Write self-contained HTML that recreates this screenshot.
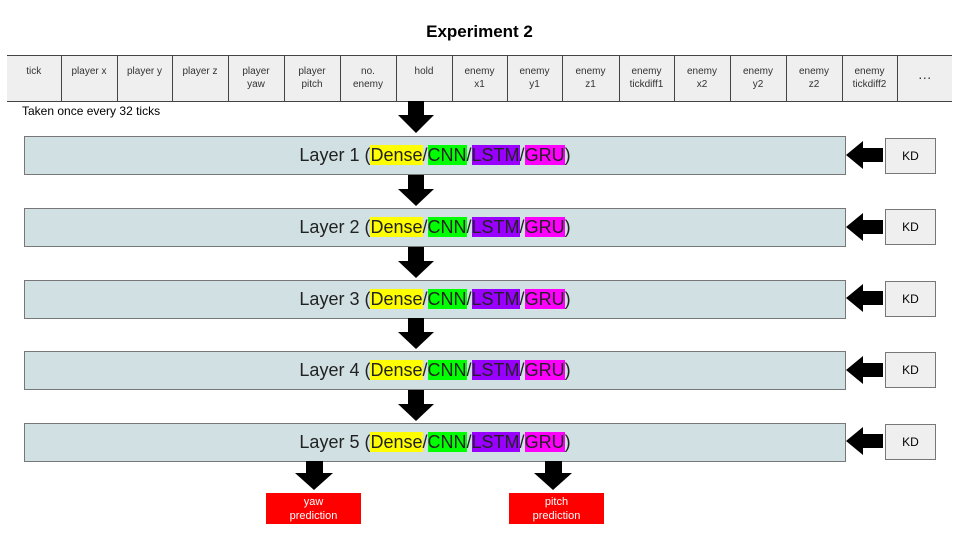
<!DOCTYPE html>
<html><head><style>
body{margin:0;width:959px;height:539px;background:#fff;font-family:"Liberation Sans",Arial,sans-serif;position:relative;overflow:hidden}
.a{position:absolute}
.title{left:0;width:959px;top:22px;text-align:center;font-weight:bold;font-size:17px}
table{position:absolute;left:7px;top:55px;border-collapse:collapse;table-layout:fixed;width:945px;height:47px;background:#efefef;font-size:10px;color:#333}
td{border:1px solid #444;border-left:1px solid #888;text-align:center;vertical-align:top;padding:9px 0 0;line-height:13px;overflow:hidden;white-space:nowrap}
tr td:first-child{border-left:none}tr td:last-child{border-right:none}
.layer{left:24px;width:820px;height:37px;background:#d0e0e3;border:1px solid #777;font-size:18px;line-height:37px;text-align:center;color:#222}
.y{background:#ffff00}.g{background:#00ff00}.p{background:#9900ff}.m{background:#ff00ff}
.kd{left:885px;width:49px;height:34px;background:#efefef;border:1px solid #777;font-size:12px;line-height:34px;text-align:center}
.red{background:#ff0000;color:#fff;font-size:11px;text-align:center;line-height:14px;padding-top:2px;width:95px;height:31px;box-sizing:border-box}
</style></head><body>
<div class="a title">Experiment 2</div>
<table>
<colgroup><col style="width:54px"><col style="width:56px"><col style="width:55px"><col style="width:56px"><col style="width:56px"><col style="width:56px"><col style="width:56px"><col style="width:56px"><col style="width:55px"><col style="width:55px"><col style="width:57px"><col style="width:55px"><col style="width:56px"><col style="width:56px"><col style="width:56px"><col style="width:55px"><col style="width:55px"></colgroup>
<tr>
<td>tick</td><td>player x</td><td>player y</td><td>player z</td><td>player<br>yaw</td><td>player<br>pitch</td><td>no.<br>enemy</td><td>hold</td><td>enemy<br>x1</td><td>enemy<br>y1</td><td>enemy<br>z1</td><td>enemy<br>tickdiff1</td><td>enemy<br>x2</td><td>enemy<br>y2</td><td>enemy<br>z2</td><td>enemy<br>tickdiff2</td><td style="font-size:14px;padding-top:12px">…</td>
</tr></table>
<div class="a" style="left:22px;top:104px;font-size:12px">Taken once every 32 ticks</div>

<div class="a layer" style="top:136px">Layer 1 (<span class="y">Dense</span>/<span class="g">CNN</span>/<span class="p">LSTM</span>/<span class="m">GRU</span>)</div>
<div class="a layer" style="top:208px">Layer 2 (<span class="y">Dense</span>/<span class="g">CNN</span>/<span class="p">LSTM</span>/<span class="m">GRU</span>)</div>
<div class="a layer" style="top:280px">Layer 3 (<span class="y">Dense</span>/<span class="g">CNN</span>/<span class="p">LSTM</span>/<span class="m">GRU</span>)</div>
<div class="a layer" style="top:351px">Layer 4 (<span class="y">Dense</span>/<span class="g">CNN</span>/<span class="p">LSTM</span>/<span class="m">GRU</span>)</div>
<div class="a layer" style="top:423px">Layer 5 (<span class="y">Dense</span>/<span class="g">CNN</span>/<span class="p">LSTM</span>/<span class="m">GRU</span>)</div>

<div class="a kd" style="top:138px">KD</div>
<div class="a kd" style="top:209px">KD</div>
<div class="a kd" style="top:281px">KD</div>
<div class="a kd" style="top:352px">KD</div>
<div class="a kd" style="top:424px">KD</div>

<svg class="a" style="left:0;top:0" width="959" height="539">
<g fill="#000">
<polygon points="408,101 424,101 424,115 434,115 416,133 398,115 408,115"/>
<polygon points="408,175 424,175 424,189 434,189 416,206 398,189 408,189"/>
<polygon points="408,247 424,247 424,261 434,261 416,278 398,261 408,261"/>
<polygon points="408,318 424,318 424,332 434,332 416,349 398,332 408,332"/>
<polygon points="408,390 424,390 424,404 434,404 416,421 398,404 408,404"/>
<polygon points="306,461 323,461 323,473 333,473 314,490 295,473 306,473"/>
<polygon points="545,461 562,461 562,473 572,473 553,490 534,473 545,473"/>
<polygon points="883,148 883,162 863,162 863,169 846,155 863,141 863,148"/>
<polygon points="883,220 883,234 863,234 863,241 846,227 863,213 863,220"/>
<polygon points="883,291 883,305 863,305 863,312 846,298 863,284 863,291"/>
<polygon points="883,363 883,377 863,377 863,384 846,370 863,356 863,363"/>
<polygon points="883,434 883,448 863,448 863,455 846,441 863,427 863,434"/>
</g></svg>
<div class="a red" style="left:266px;top:493px">yaw<br>prediction</div>
<div class="a red" style="left:509px;top:493px">pitch<br>prediction</div>
</body></html>
